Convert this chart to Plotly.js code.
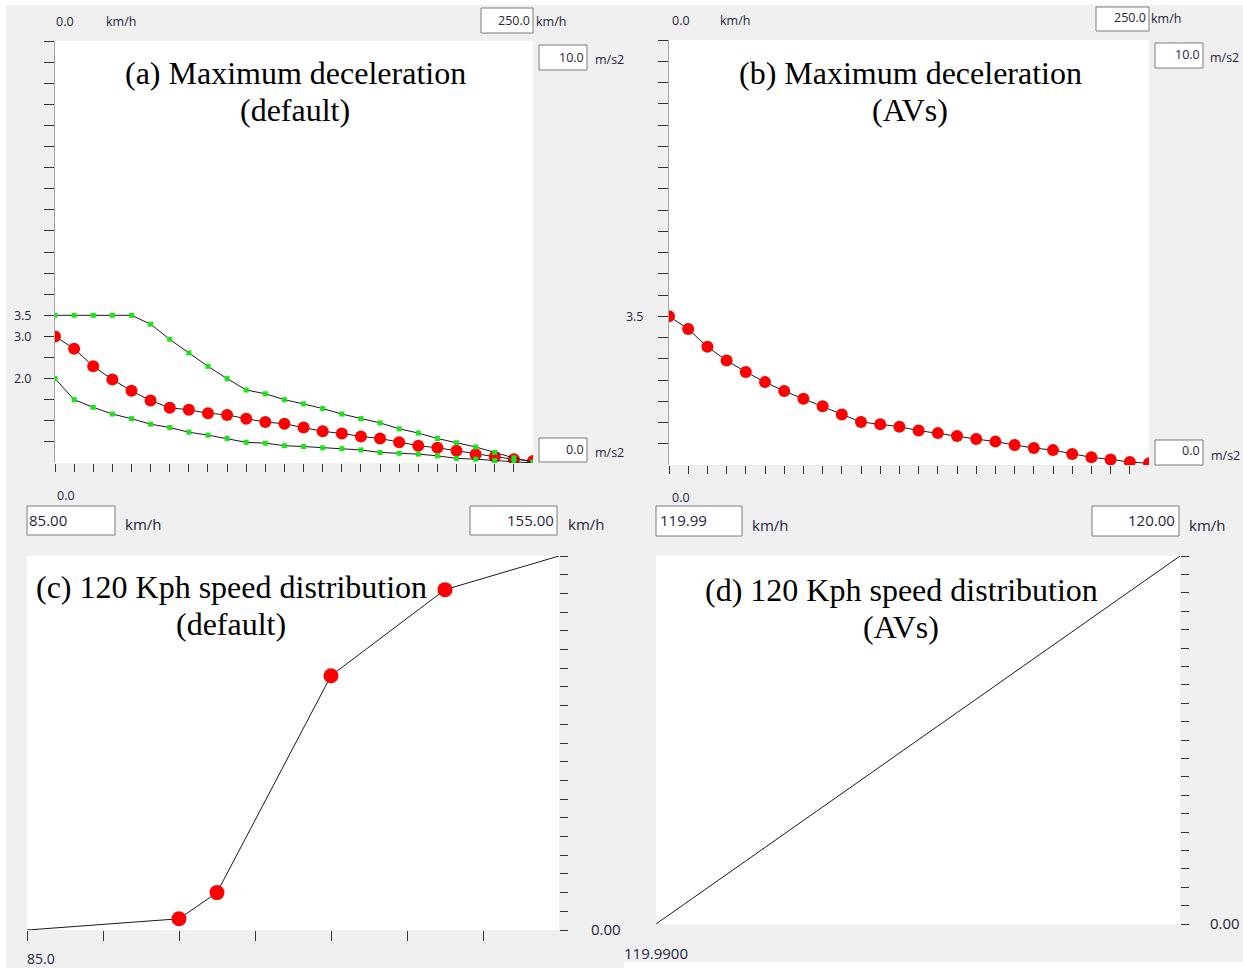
<!DOCTYPE html>
<html>
<head>
<meta charset="utf-8">
<script src="https://cdn.plot.ly/plotly-3.0.1.min.js"></script>
<style>
  html, body { margin: 0; padding: 0; background: #ffffff; }
  #chart { width: 1243px; height: 968px; }
</style>
</head>
<body>
<div id="chart"></div>
<script>
// ---------------- DATA ----------------
const speedKmh = [0,10,20,30,40,50,60,70,80,90,100,110,120,130,140,150,160,170,180,190,200,210,220,230,240,250];

// (a) Maximum deceleration (default)
const decelMeanDefault = [3.00,2.71,2.29,1.98,1.71,1.48,1.31,1.26,1.18,1.14,1.05,0.97,0.93,0.84,0.75,0.70,0.63,0.58,0.49,0.41,0.36,0.29,0.21,0.15,0.09,0.05];
const decelUpperDefault = [3.50,3.50,3.50,3.50,3.50,3.29,2.93,2.61,2.29,2.00,1.73,1.64,1.50,1.40,1.29,1.16,1.05,0.95,0.81,0.71,0.58,0.48,0.38,0.25,0.12,0.02];
const decelLowerDefault = [2.00,1.50,1.32,1.16,1.05,0.92,0.84,0.73,0.66,0.58,0.49,0.47,0.41,0.39,0.36,0.34,0.31,0.25,0.23,0.21,0.17,0.11,0.09,0.06,0.03,0.00];

// (b) Maximum deceleration (AVs)
const decelAVs = [3.50,3.20,2.78,2.46,2.19,1.95,1.74,1.56,1.38,1.19,1.01,0.96,0.90,0.81,0.75,0.68,0.61,0.55,0.47,0.40,0.35,0.26,0.18,0.13,0.07,0.04];

// (c) 120 Kph speed distribution (default)
const distSpeedDefault = [85,105,110,125,140,155];
const distCumDefault   = [0.00,0.03,0.10,0.68,0.91,1.00];

// (d) 120 Kph speed distribution (AVs)
const distSpeedAVs = [119.99,120.00];
const distCumAVs   = [0.00,1.00];

// tick definitions
const speedTicks = [0,10,20,30,40,50,60,70,80,90,100,110,120,130,140,150,160,170,180,190,200,210,220,230,240];
const decelTicks = [0.5,1.0,1.5,2.0,2.5,3.0,3.5,4.0,4.5,5.0,5.5,6.0,6.5,7.0,7.5,8.0,8.5,9.0,9.5,10.0];
const decelTickLabelsA = ['','','','2.0','','3.0','3.5','','','','','','','','','','','','',''];
const decelTickLabelsB = ['','','','','','','3.5','','','','','','','','','','','','',''];
const distXTicks = [85,95,105,115,125,135,145];
const cumTicks = [0,0.05,0.1,0.15,0.2,0.25,0.3,0.35,0.4,0.45,0.5,0.55,0.6,0.65,0.7,0.75,0.8,0.85,0.9,0.95,1.0];
const cumTickLabels = ['0.00','','','','','','','','','','','','','','','','','','','',''];

// ---------------- LAYOUT HELPERS ----------------
const W = 1243, H = 968;
const fx = p => p / W;
const fy = p => 1 - p / H;
const TXT = '#25253c';
const SANS = 'Open Sans, Noto Sans, sans-serif';
const SERIF = 'Liberation Serif, Times New Roman, serif';
const RED = '#ff0000';
const GREEN = '#19e619';

function label(text, x, y, anchor, size) {
  return { text: text, x: fx(x), y: fy(y), xref: 'paper', yref: 'paper',
           showarrow: false, xanchor: anchor || 'left', yanchor: 'middle',
           borderpad: 0, font: { family: SANS, size: size || 12.5, color: TXT } };
}
function title(text, x, y) {
  return { text: text, x: fx(x), y: fy(y), xref: 'paper', yref: 'paper',
           showarrow: false, xanchor: 'center', yanchor: 'middle', align: 'center',
           borderpad: 0, font: { family: SERIF, size: 32, color: '#000000' } };
}
function box(x0, y0, x1, y1) {
  return { type: 'rect', xref: 'paper', yref: 'paper', layer: 'above',
           x0: fx(x0), x1: fx(x1), y0: fy(y1), y1: fy(y0),
           fillcolor: '#ffffff', line: { color: '#7a7a7a', width: 1 } };
}
function whiteRect(x0, y0, x1, y1) {
  return { type: 'rect', xref: 'paper', yref: 'paper', layer: 'below',
           x0: fx(x0), x1: fx(x1), y0: fy(y1), y1: fy(y0),
           fillcolor: '#ffffff', line: { width: 0 } };
}

// ---------------- TRACES ----------------
const lineStyle = { color: '#1a1a1a', width: 1 };
const traces = [
  { x: speedKmh, y: decelMeanDefault, xaxis: 'x', yaxis: 'y', mode: 'lines+markers',
    line: lineStyle, marker: { color: RED, size: 12, symbol: 'circle' } },
  { x: speedKmh, y: decelUpperDefault, xaxis: 'x', yaxis: 'y', mode: 'lines+markers',
    line: lineStyle, marker: { color: GREEN, size: 5, symbol: 'square' } },
  { x: speedKmh, y: decelLowerDefault, xaxis: 'x', yaxis: 'y', mode: 'lines+markers',
    line: lineStyle, marker: { color: GREEN, size: 5, symbol: 'square' } },
  { x: speedKmh, y: decelAVs, xaxis: 'x2', yaxis: 'y2', mode: 'lines+markers',
    line: lineStyle, marker: { color: RED, size: 12, symbol: 'circle' } },
  { x: distSpeedDefault, y: distCumDefault, xaxis: 'x3', yaxis: 'y3', mode: 'lines+markers',
    line: lineStyle,
    marker: { color: RED, size: 15, symbol: 'circle',
              opacity: distSpeedDefault.map((_, i) => (i === 0 || i === distSpeedDefault.length - 1) ? 0 : 1) } },
  { x: distSpeedAVs, y: distCumAVs, xaxis: 'x4', yaxis: 'y4', mode: 'lines',
    line: lineStyle }
];

// ---------------- AXES ----------------
const tickBase = { ticks: 'outside', tickcolor: '#333333', tickwidth: 1, showgrid: false,
                   zeroline: false, fixedrange: true };
const tickFont = { family: SANS, size: 12.5, color: TXT };

const layout = {
  width: W, height: H,
  margin: { l: 0, r: 0, t: 0, b: 0 },
  paper_bgcolor: '#f0f0f0',
  plot_bgcolor: '#ffffff',
  showlegend: false,
  xaxis: Object.assign({}, tickBase, { domain: [fx(55), fx(533)], range: [0, 250], anchor: 'y',
    tickvals: speedTicks, ticklen: 8, showticklabels: false, showline: false }),
  yaxis: Object.assign({}, tickBase, { domain: [fy(463), fy(41)], range: [0, 10], anchor: 'x',
    tickvals: decelTicks, ticktext: decelTickLabelsA, ticklen: 10, tickfont: tickFont,
    ticklabelstandoff: 10, showline: true, linecolor: '#a8a8a8', linewidth: 1 }),
  xaxis2: Object.assign({}, tickBase, { domain: [fx(669), fx(1149)], range: [0, 250], anchor: 'y2',
    tickvals: speedTicks, ticklen: 8, showticklabels: false, showline: false }),
  yaxis2: Object.assign({}, tickBase, { domain: [fy(465), fy(40)], range: [0, 10], anchor: 'x2',
    tickvals: decelTicks, ticktext: decelTickLabelsB, ticklen: 10, tickfont: tickFont,
    ticklabelstandoff: 12, showline: true, linecolor: '#a8a8a8', linewidth: 1 }),
  xaxis3: Object.assign({}, tickBase, { domain: [fx(27), fx(559)], range: [85, 155], anchor: 'y3',
    tickvals: distXTicks, ticklen: 10, showticklabels: false, showline: false }),
  yaxis3: Object.assign({}, tickBase, { domain: [fy(930), fy(556)], range: [0, 1], anchor: 'x3',
    side: 'right', tickvals: cumTicks, ticktext: cumTickLabels, ticklen: 8,
    tickfont: { family: SANS, size: 15, color: TXT }, ticklabelstandoff: 20, showline: false }),
  xaxis4: Object.assign({}, tickBase, { domain: [fx(656), fx(1180)], range: [119.99, 120.00], anchor: 'y4',
    ticks: '', showticklabels: false, showline: false }),
  yaxis4: Object.assign({}, tickBase, { domain: [fy(924), fy(556)], range: [0, 1], anchor: 'x4',
    side: 'right', tickvals: cumTicks, ticktext: cumTickLabels, ticklen: 8,
    tickfont: { family: SANS, size: 15, color: TXT }, ticklabelstandoff: 18, showline: false }),
  shapes: [
    whiteRect(0, 0, 1243, 5),
    whiteRect(0, 0, 6, 968),
    whiteRect(624, 962, 1243, 968),
    box(481, 8, 533, 33),
    box(539, 45, 587, 70),
    box(539, 438, 587, 462),
    box(1096, 7, 1149, 31),
    box(1155, 43, 1203, 68),
    box(1155, 440, 1203, 465),
    box(27, 506, 115, 535),
    box(470, 506, 557, 535),
    box(656, 506, 742, 536),
    box(1092, 506, 1179, 536)
  ],
  annotations: [
    title('(a) Maximum deceleration', 295, 73), title('(default)', 295, 110),
    title('(b) Maximum deceleration', 910, 73), title('(AVs)', 910, 110),
    title('(c) 120 Kph speed distribution', 231, 587), title('(default)', 231, 624),
    title('(d) 120 Kph speed distribution', 901, 590), title('(AVs)', 901, 627),
    // panel (a)
    label('0.0', 55, 22), label('km/h', 105, 22),
    label('250.0', 531, 20, 'right'), label('km/h', 535, 21),
    label('10.0', 585, 57, 'right'), label('m/s2', 594, 59),
    label('0.0', 585, 449, 'right'), label('m/s2', 594, 452),
    label('0.0', 56, 495),
    // panel (b)
    label('0.0', 671, 20), label('km/h', 719, 20),
    label('250.0', 1147, 18, 'right'), label('km/h', 1150, 19),
    label('10.0', 1201, 55, 'right'), label('m/s2', 1209, 57),
    label('0.0', 1201, 451, 'right'), label('m/s2', 1210, 455),
    label('0.0', 671, 497),
    // panel (c)
    label('85.00', 28, 520, 'left', 15), label('km/h', 124, 524, 'left', 15),
    label('155.00', 555, 520, 'right', 15), label('km/h', 567, 524, 'left', 15),
    label('85.0', 26, 958, 'left', 14),
    // panel (d)
    label('119.99', 659, 520, 'left', 15), label('km/h', 751, 525, 'left', 15),
    label('120.00', 1176, 520, 'right', 15), label('km/h', 1188, 525, 'left', 15),
    label('119.9900', 656, 953, 'center', 15)
  ]
};

Plotly.newPlot('chart', traces, layout, { staticPlot: true, displayModeBar: false });
</script>
</body>
</html>
